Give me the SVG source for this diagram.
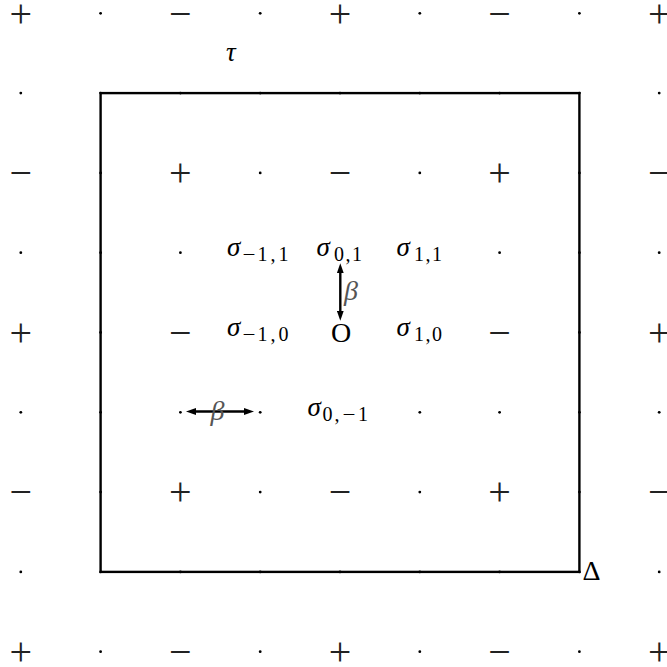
<svg xmlns="http://www.w3.org/2000/svg" width="667" height="667" viewBox="0 0 667 667">
<style>
.sg{font-family:"Liberation Serif",serif;font-size:40px;fill:#222;text-anchor:middle}
.m{font-family:"Liberation Serif",serif;font-size:27px;font-style:italic;fill:#000}
.r{font-family:"Liberation Serif",serif;font-size:28px;fill:#000}
.sub{font-style:normal;font-size:20px}
.b{font-family:"Liberation Serif",serif;font-size:28px;font-style:italic;fill:#555}
.ln{stroke:#000;stroke-width:2.4;fill:none}
</style>
<defs>
<marker id="ah" viewBox="0 0 10 7" refX="5" refY="3.5" markerWidth="10" markerHeight="7" markerUnits="userSpaceOnUse" orient="auto-start-reverse">
<path d="M0,0 L10,3.5 L0,7 z" fill="#000"/>
</marker>
<circle id="d" r="1.4" fill="#000"/>
</defs>
<rect width="667" height="667" fill="#fff"/>
<g id="box">
<rect x="100.6" y="93.1" width="478.8" height="478.8" fill="none" stroke="#000" stroke-width="2.4"/>
</g>
<g id="dots">
<use href="#d" x="100.6" y="13.3"/><use href="#d" x="260.2" y="13.3"/><use href="#d" x="419.8" y="13.3"/><use href="#d" x="579.4" y="13.3"/>
<use href="#d" x="20.8" y="93.1"/><use href="#d" x="100.6" y="93.1"/><use href="#d" x="180.4" y="93.1"/><use href="#d" x="260.2" y="93.1"/><use href="#d" x="340" y="93.1"/><use href="#d" x="419.8" y="93.1"/><use href="#d" x="499.6" y="93.1"/><use href="#d" x="579.4" y="93.1"/><use href="#d" x="659.2" y="93.1"/>
<use href="#d" x="100.6" y="172.9"/><use href="#d" x="260.2" y="172.9"/><use href="#d" x="419.8" y="172.9"/><use href="#d" x="579.4" y="172.9"/>
<use href="#d" x="20.8" y="252.7"/><use href="#d" x="100.6" y="252.7"/><use href="#d" x="180.4" y="252.7"/><use href="#d" x="499.6" y="252.7"/><use href="#d" x="579.4" y="252.7"/><use href="#d" x="659.2" y="252.7"/>
<use href="#d" x="100.6" y="332.5"/><use href="#d" x="579.4" y="332.5"/>
<use href="#d" x="20.8" y="412.3"/><use href="#d" x="100.6" y="412.3"/><use href="#d" x="180.4" y="412.3"/><use href="#d" x="260.2" y="412.3"/><use href="#d" x="419.8" y="412.3"/><use href="#d" x="499.6" y="412.3"/><use href="#d" x="579.4" y="412.3"/><use href="#d" x="659.2" y="412.3"/>
<use href="#d" x="100.6" y="492.1"/><use href="#d" x="260.2" y="492.1"/><use href="#d" x="419.8" y="492.1"/><use href="#d" x="579.4" y="492.1"/>
<use href="#d" x="20.8" y="571.9"/><use href="#d" x="100.6" y="571.9"/><use href="#d" x="180.4" y="571.9"/><use href="#d" x="260.2" y="571.9"/><use href="#d" x="340" y="571.9"/><use href="#d" x="419.8" y="571.9"/><use href="#d" x="499.6" y="571.9"/><use href="#d" x="579.4" y="571.9"/><use href="#d" x="659.2" y="571.9"/>
<use href="#d" x="100.6" y="651.7"/><use href="#d" x="260.2" y="651.7"/><use href="#d" x="419.8" y="651.7"/><use href="#d" x="579.4" y="651.7"/>
</g>
<g id="signs">
<text class="sg" x="20.8" y="26.5">+</text><text class="sg" x="180.4" y="26.5">−</text><text class="sg" x="340" y="26.5">+</text><text class="sg" x="499.6" y="26.5">−</text><text class="sg" x="659.2" y="26.5">+</text>
<text class="sg" x="20.8" y="186.1">−</text><text class="sg" x="180.4" y="186.1">+</text><text class="sg" x="340" y="186.1">−</text><text class="sg" x="499.6" y="186.1">+</text><text class="sg" x="659.2" y="186.1">−</text>
<text class="sg" x="20.8" y="345.7">+</text><text class="sg" x="180.4" y="345.7">−</text><text class="sg" x="499.6" y="345.7">−</text><text class="sg" x="659.2" y="345.7">+</text>
<text class="sg" x="20.8" y="505.3">−</text><text class="sg" x="180.4" y="505.3">+</text><text class="sg" x="340" y="505.3">−</text><text class="sg" x="499.6" y="505.3">+</text><text class="sg" x="659.2" y="505.3">−</text>
<text class="sg" x="20.8" y="664.9">+</text><text class="sg" x="180.4" y="664.9">−</text><text class="sg" x="340" y="664.9">+</text><text class="sg" x="499.6" y="664.9">−</text><text class="sg" x="659.2" y="664.9">+</text>
</g>
<g id="tau"><text class="m" x="226" y="61">τ</text></g>
<g id="delta"><text class="r" x="582.5" y="580">Δ</text></g>
<g id="origin"><text class="r" x="341" y="341.5" text-anchor="middle">O</text></g>
<g id="s-m1-1"><text class="m" x="227" y="256">σ<tspan class="sub" x="242.5" y="261" textLength="13" lengthAdjust="spacingAndGlyphs">−</tspan><tspan class="sub" x="257.5" y="261" textLength="31" lengthAdjust="spacing">1,1</tspan></text></g>
<g id="s-0-1"><text class="m" x="316.5" y="256">σ<tspan class="sub" x="334" y="261" textLength="28" lengthAdjust="spacing">0,1</tspan></text></g>
<g id="s-1-1"><text class="m" x="396.5" y="256">σ<tspan class="sub" x="414" y="261" textLength="28" lengthAdjust="spacing">1,1</tspan></text></g>
<g id="s-m1-0"><text class="m" x="227" y="336">σ<tspan class="sub" x="242.5" y="341" textLength="13" lengthAdjust="spacingAndGlyphs">−</tspan><tspan class="sub" x="257.5" y="341" textLength="31" lengthAdjust="spacing">1,0</tspan></text></g>
<g id="s-1-0"><text class="m" x="396.5" y="336">σ<tspan class="sub" x="414" y="341" textLength="28" lengthAdjust="spacing">1,0</tspan></text></g>
<g id="s-0-m1"><text class="m" x="307.5" y="415.8">σ<tspan class="sub" x="322.5" y="420.8" textLength="17" lengthAdjust="spacing">0,</tspan><tspan class="sub" x="342.5" y="420.8" textLength="13" lengthAdjust="spacingAndGlyphs">−</tspan><tspan class="sub" x="358" y="420.8">1</tspan></text></g>
<g id="connectors">
<line class="ln" x1="340.3" y1="268.3" x2="340.3" y2="315.7" marker-start="url(#ah)" marker-end="url(#ah)"/>
<line class="ln" x1="191" y1="411.5" x2="249" y2="411.5" marker-start="url(#ah)" marker-end="url(#ah)"/>
<text class="b" x="344" y="300">β</text>
<text class="b" x="210.5" y="420">β</text>
</g>
</svg>
